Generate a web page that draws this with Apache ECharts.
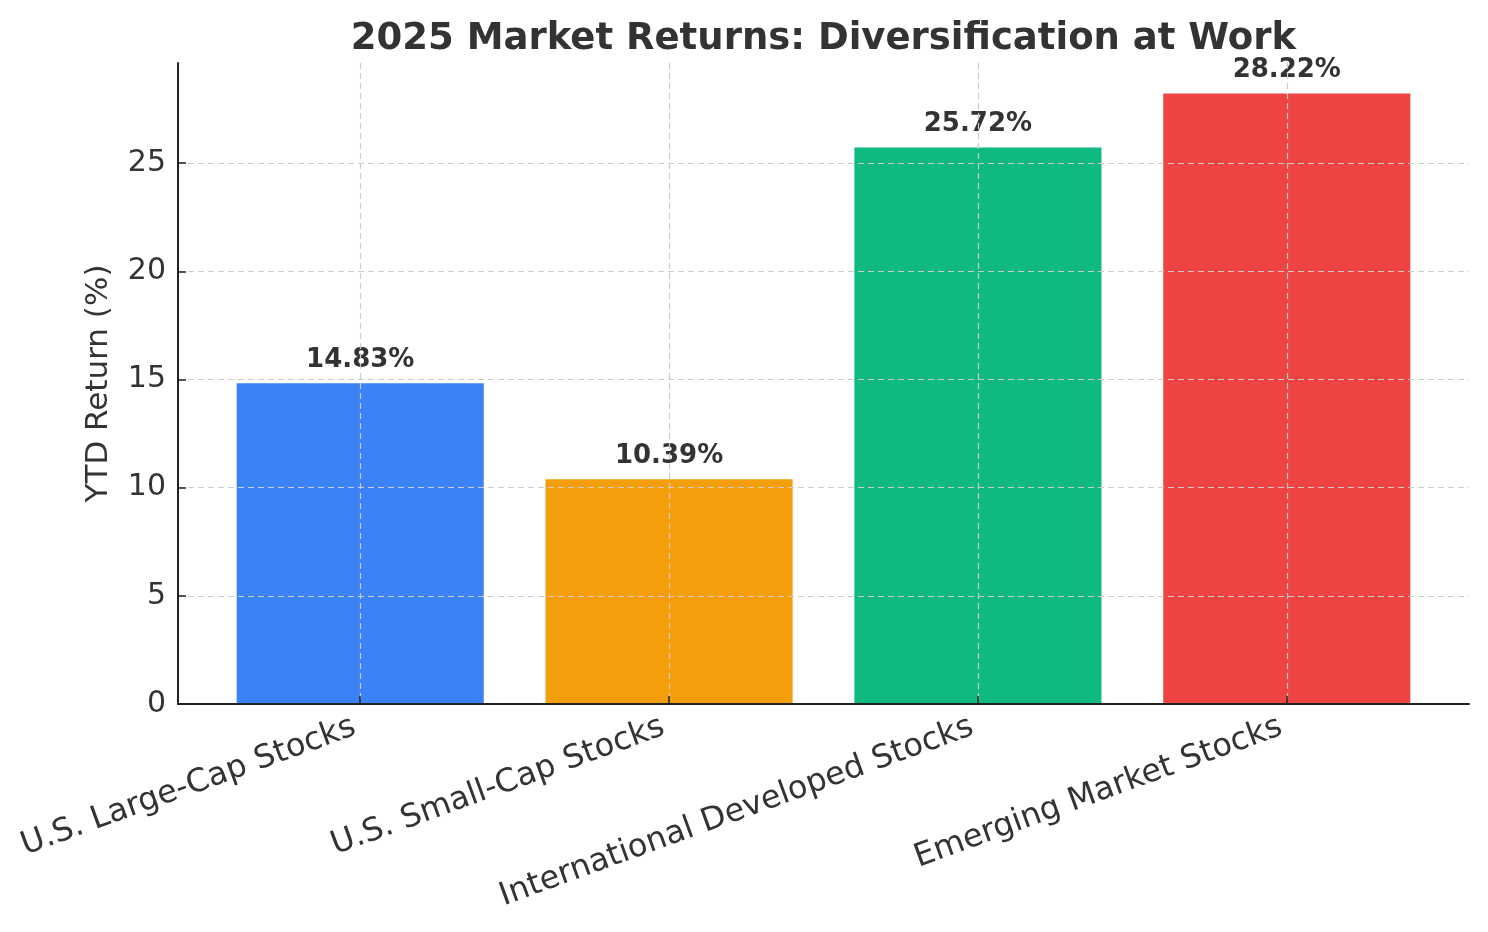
<!DOCTYPE html>
<html>
<head>
<meta charset="utf-8">
<script src="https://cdn.jsdelivr.net/npm/echarts@6/dist/echarts.min.js"></script>
<style>
  html, body { margin: 0; padding: 0; background: #ffffff; }
  #chart { width: 1488px; height: 932px; }
</style>
</head>
<body>
<div id="chart"></div>
<script>
const categories = ['U.S. Large-Cap Stocks', 'U.S. Small-Cap Stocks', 'International Developed Stocks', 'Emerging Market Stocks'];
const returns = [14.83, 10.39, 25.72, 28.22];
const barColors = ['#3B82F6', '#F59E0B', '#10B981', '#EF4444'];
const yTicks = [0, 5, 10, 15, 20, 25];

const FONT = 'DejaVu Sans';
const TEXT = '#333333';
const gridLeft = 178, gridRight = 19, gridTop = 63, gridBottom = 228;
const xMin = -0.59, xMax = categories.length - 1 + 0.59;
const yMax = Math.max(...returns) * 1.05;
const plotW = 1488 - gridLeft - gridRight;
const barW = 0.8 * plotW / (xMax - xMin);
const catIdx = categories.map((c, i) => i);

const chart = echarts.init(document.getElementById('chart'), null, { renderer: 'canvas' });
chart.setOption({
  backgroundColor: '#ffffff',
  animation: false,
  title: {
    text: '2025 Market Returns: Diversification at Work',
    left: gridLeft + plotW / 2 - 5,
    textAlign: 'center',
    top: 16,
    textStyle: { fontFamily: FONT, fontSize: 37, fontWeight: 'bold', color: TEXT }
  },
  grid: { left: gridLeft, right: gridRight, top: gridTop, bottom: gridBottom, containLabel: false },
  xAxis: {
    type: 'value',
    min: xMin,
    max: xMax,
    z: 5,
    axisLine: { show: true, onZero: false, lineStyle: { color: '#222222', width: 2 } },
    axisTick: { show: true, inside: true, length: 8, customValues: catIdx, lineStyle: { color: '#222222', width: 1.5 } },
    axisLabel: {
      customValues: catIdx,
      rotate: 20,
      margin: 20,
      padding: [0, 6, 0, 0],
      fontFamily: FONT,
      fontSize: 32,
      color: TEXT,
      formatter: v => categories[Math.round(v)] || ''
    },
    splitLine: { show: true, lineStyle: { color: '#cccccc', type: [6, 4], width: 1.2 } }
  },
  yAxis: {
    type: 'value',
    min: 0,
    max: yMax,
    z: 5,
    name: 'YTD Return (%)',
    nameLocation: 'middle',
    nameRotate: 90,
    nameGap: 64,
    nameTextStyle: { fontFamily: FONT, fontSize: 31, color: TEXT },
    axisLine: { show: true, onZero: false, lineStyle: { color: '#222222', width: 2 } },
    axisTick: { show: true, inside: true, length: 8, customValues: yTicks, lineStyle: { color: '#222222', width: 1.5 } },
    axisLabel: { customValues: yTicks, margin: 12, fontFamily: FONT, fontSize: 30, color: TEXT },
    splitLine: { show: true, lineStyle: { color: '#cccccc', type: [6, 4], width: 1.2 } }
  },
  series: [{
    type: 'bar',
    z: 2,
    barWidth: barW,
    data: returns.map((v, i) => ({ value: [i, v], itemStyle: { color: barColors[i] } })),
    label: {
      show: true,
      position: 'top',
      distance: 10,
      fontFamily: FONT,
      fontSize: 26,
      fontWeight: 'bold',
      color: TEXT,
      formatter: p => p.value[1].toFixed(2) + '%'
    }
  }]
});
</script>
</body>
</html>
